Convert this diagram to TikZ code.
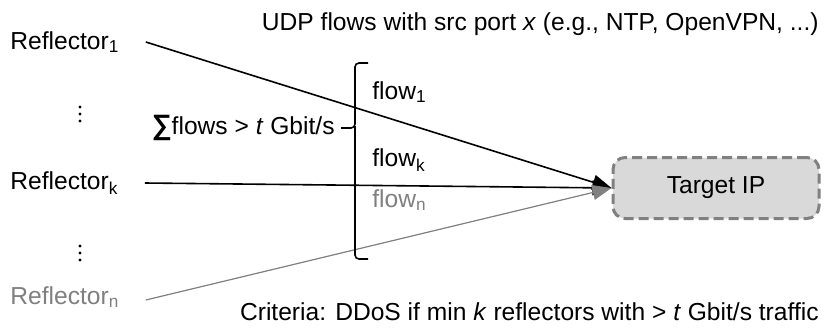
\documentclass[tikz,border=0pt]{standalone}
\usepackage{fontspec}
\setmainfont{Liberation Sans}
\usetikzlibrary{positioning,arrows.meta}
\definecolor{flowgray}{HTML}{808080}
\definecolor{boxgray}{HTML}{D9D9D9}
\tikzset{
  lbl/.style={inner sep=1pt,font=\fontsize{12.3}{14}\selectfont},
  target/.style={draw=flowgray,dashed,dash pattern=on 5pt off 2.5pt,line width=1.5pt,fill=boxgray,
    rounded corners=6pt,minimum width=103pt,minimum height=30.5pt,font=\fontsize{12.3}{14}\selectfont},
  arr/.style={-{Triangle[length=9.5pt,width=7.5pt]},line width=0.8pt},
  garr/.style={arr,draw=flowgray,fill=flowgray,line width=0.6pt}
}
\newcommand{\rsub}[1]{\textsubscript{#1}}

\begin{document}
\begin{tikzpicture}[x=0.5pt,y=-0.5pt]
\useasboundingbox (0,0) rectangle (825,333);

% reflectors
\node[lbl,anchor=west] (refone) at (8,42) {Reflector\rsub{1}};
\node[lbl,anchor=west] (refk) at (8,183) {Reflector\rsub{k}};
\node[lbl,anchor=west,text=flowgray] (refn) at (8,297) {Reflector\rsub{n}};
\foreach \cy in {114,253}
  \foreach \dy in {-7,0,7}
    \fill (80,\cy+\dy) circle (0.85pt);
\coordinate[right=12pt of refone.east] (srcone);
\coordinate[right=12pt of refk.east] (srck);
\coordinate[right=12pt of refn.east,yshift=-1.5pt] (srcn);

% target
\node[target] (tgt) at (716,188) {Target IP};

% flows
\draw[arr] (srcone) -- (tgt.west);
\draw[arr] (srck) -- (tgt.west);
\draw[garr] (srcn) -- (tgt.west);

\node[lbl,anchor=west] (flowone) at (370,92) {flow\rsub{1}};
\node[lbl,anchor=west] (flowk) at (370,160) {flow\rsub{k}};
\node[lbl,anchor=west,text=flowgray] (flown) at (370,200) {flow\rsub{n}};

% bracket
\draw[line width=0.8pt,rounded corners=2pt] (368,63) -- (355,63) -- (355,128) -- (341,128);
\draw[line width=0.8pt,rounded corners=2pt] (355,126) -- (355,259) -- (368,259);
\node[lbl,anchor=east] (sum) at (337,128) {\textbf{\fontsize{14}{14}\selectfont ∑}flows > \textit{t} Gbit/s};

% captions
\node[lbl,anchor=east] (udp) at (821,24) {UDP flows with src port \textit{x} (e.g., NTP, OpenVPN, ...)};
\node[lbl,anchor=east] (crit) at (821,312) {Criteria: DDoS if min \textit{k} reflectors with > \textit{t} Gbit/s traffic};
\end{tikzpicture}
\end{document}
